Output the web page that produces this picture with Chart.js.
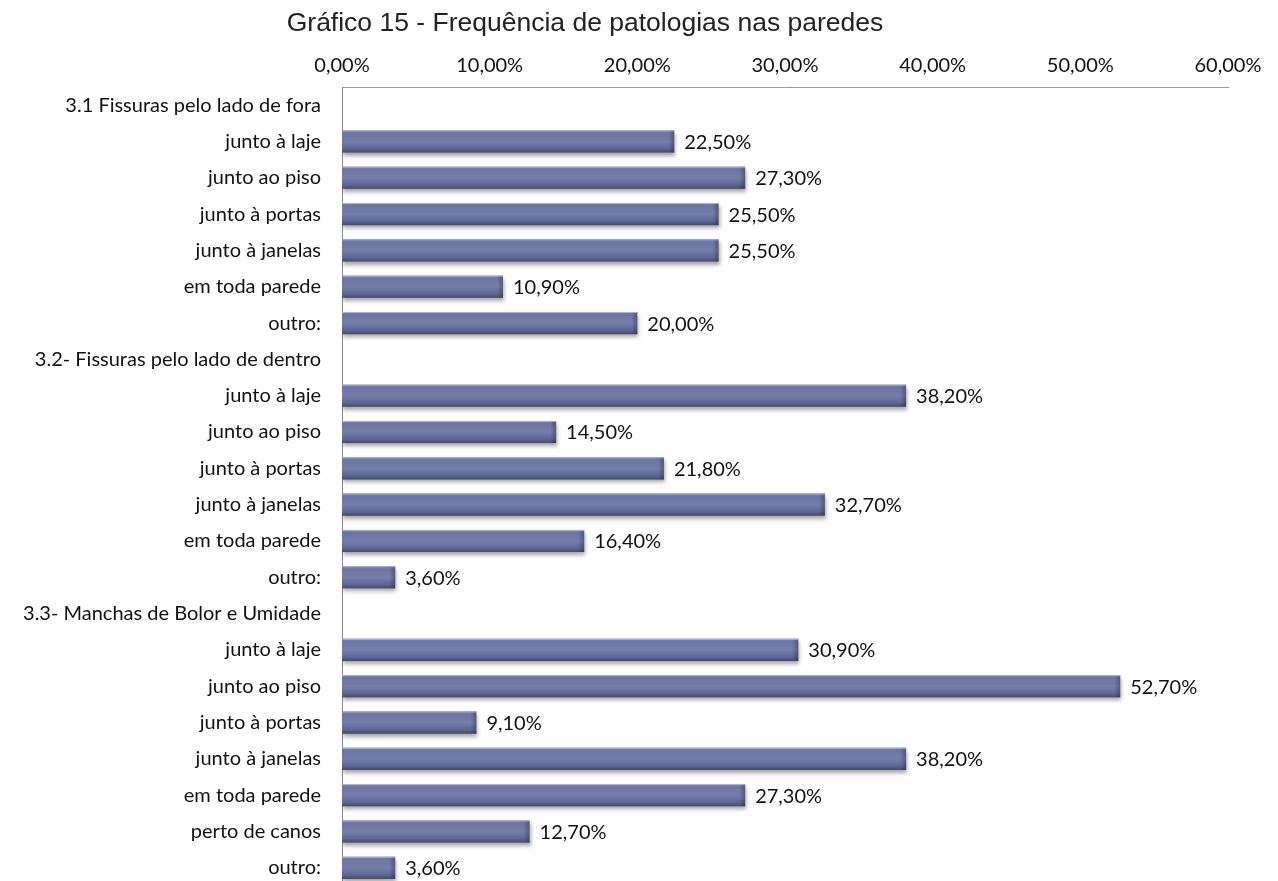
<!DOCTYPE html>
<html>
<head>
<meta charset="utf-8">
<script src="https://cdn.jsdelivr.net/npm/chart.js@4.4.0/dist/chart.umd.min.js"></script>
<style>
  html, body { margin: 0; padding: 0; background: #fff; overflow: hidden; }
  canvas { display: block; }
</style>
</head>
<body>
<canvas id="chart" width="1278" height="900"></canvas>
<script>
const titleText = 'Gráfico 15 - Frequência de patologias nas paredes';

const categories = [
    '3.1 Fissuras pelo lado de fora',
    'junto à laje', 'junto ao piso', 'junto à portas', 'junto à janelas', 'em toda parede', 'outro:',
    '3.2- Fissuras pelo lado de dentro',
    'junto à laje', 'junto ao piso', 'junto à portas', 'junto à janelas', 'em toda parede', 'outro:',
    '3.3- Manchas de Bolor e Umidade',
    'junto à laje', 'junto ao piso', 'junto à portas', 'junto à janelas', 'em toda parede', 'perto de canos', 'outro:'
];

// percentages; group header rows have no bar
const frequencies = [
    null, 22.5, 27.3, 25.5, 25.5, 10.9, 20.0,
    null, 38.2, 14.5, 21.8, 32.7, 16.4, 3.6,
    null, 30.9, 52.7, 9.1, 38.2, 27.3, 12.7, 3.6
];

const axisMax = 60;
const axisStep = 10;

const fmtPct = v => v.toFixed(2).replace('.', ',') + '%';

const fontFamily = 'Lato, "Open Sans", sans-serif';

// shadow + shaded overlay for the bars, value labels at the bar ends
const barStyle = {
    id: 'barStyle',
    beforeDatasetDraw(chart) {
        const ctx = chart.ctx;
        ctx.save();
        ctx.shadowColor = 'rgba(0,0,0,0.35)';
        ctx.shadowBlur = 4;
        ctx.shadowOffsetX = 1;
        ctx.shadowOffsetY = 3;
    },
    afterDatasetDraw(chart, args) {
        const ctx = chart.ctx;
        ctx.restore();
        args.meta.data.forEach((bar, i) => {
            const v = frequencies[i];
            if (v == null) return;
            const top = bar.y - bar.height / 2;
            const h = bar.height;
            const left = bar.base;
            const w = bar.x - bar.base;
            const g = ctx.createLinearGradient(0, top, 0, top + h);
            g.addColorStop(0, 'rgba(40,45,80,0.35)');
            g.addColorStop(0.12, 'rgba(255,255,255,0.04)');
            g.addColorStop(0.5, 'rgba(255,255,255,0.10)');
            g.addColorStop(0.82, 'rgba(20,25,60,0.10)');
            g.addColorStop(1, 'rgba(20,25,60,0.45)');
            ctx.fillStyle = g;
            ctx.fillRect(left, top, w, h);
            const gx = ctx.createLinearGradient(bar.x - 6, 0, bar.x, 0);
            gx.addColorStop(0, 'rgba(20,25,60,0)');
            gx.addColorStop(1, 'rgba(20,25,60,0.35)');
            ctx.fillStyle = gx;
            ctx.fillRect(bar.x - 6, top, 6, h);
            ctx.fillStyle = 'rgba(200,200,210,0.8)';
            ctx.fillRect(left, top, w, 1);

            ctx.fillStyle = '#111';
            ctx.font = '20px ' + fontFamily;
            ctx.textAlign = 'left';
            ctx.textBaseline = 'middle';
            ctx.fillText(fmtPct(v), bar.x + 10, bar.y + 1);
        });
    }
};

const titlePlugin = {
    id: 'titleText',
    afterDraw(chart) {
        const ctx = chart.ctx;
        ctx.save();
        ctx.fillStyle = '#222';
        ctx.font = '26.5px "Liberation Sans", Arial, sans-serif';
        ctx.textAlign = 'center';
        ctx.textBaseline = 'alphabetic';
        ctx.fillText(titleText, 585, 31);
        ctx.restore();
    }
};

new Chart(document.getElementById('chart'), {
    type: 'bar',
    data: {
        labels: categories,
        datasets: [{
            data: frequencies,
            backgroundColor: '#66709f',
            borderWidth: 0,
            categoryPercentage: 1,
            barPercentage: 0.61
        }]
    },
    options: {
        indexAxis: 'y',
        responsive: false,
        animation: false,
        // canvas is a bit taller than the page, last row runs off the bottom
        layout: { padding: { left: 0, right: 50, top: 0, bottom: 14 } },
        plugins: {
            legend: { display: false },
            tooltip: { enabled: false }
        },
        scales: {
            x: {
                position: 'top',
                min: 0,
                max: axisMax,
                afterFit(scale) { scale.height = 87; },
                grid: { display: false, drawTicks: false },
                border: { display: true, color: '#9a9a9a', width: 1 },
                ticks: {
                    stepSize: axisStep,
                    padding: 9,
                    color: '#111',
                    font: { family: fontFamily, size: 20 },
                    callback: v => fmtPct(v)
                }
            },
            y: {
                afterFit(scale) {
                    scale.width = 342;
                    scale.paddingTop = 0;
                    scale.paddingBottom = 0;
                },
                grid: { display: false, drawTicks: false },
                border: { display: true, color: '#8a8a8a', width: 1 },
                ticks: {
                    padding: 21,
                    color: '#111',
                    font: { family: fontFamily, size: 20 },
                    autoSkip: false
                }
            }
        }
    },
    plugins: [barStyle, titlePlugin]
});
</script>
</body>
</html>
